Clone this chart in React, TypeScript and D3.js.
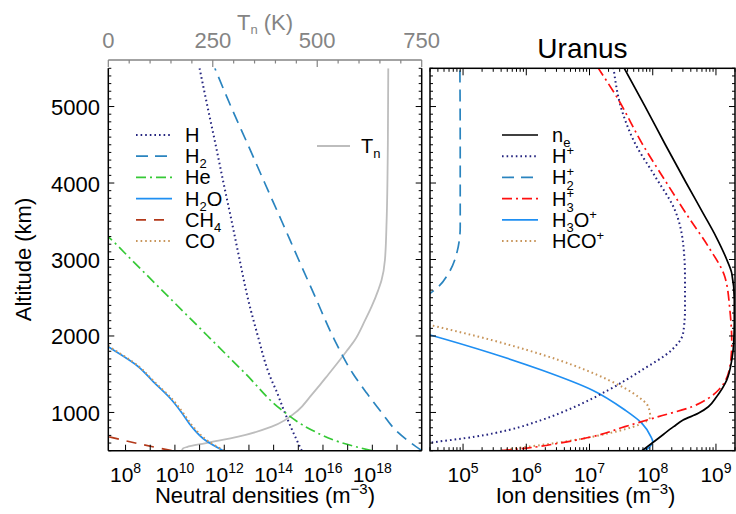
import React from 'react';
import * as d3 from 'd3';

const FONT = "'Liberation Sans', Arial, Helvetica, sans-serif";

// ---------- axes ----------
const ALT_DOMAIN = [500, 5500];
const ALT_LABELS = [1000, 2000, 3000, 4000, 5000];
const NEUTRAL_DOMAIN = [2e7, 1e20];
const NEUTRAL_DECADES = [8, 9, 10, 11, 12, 13, 14, 15, 16, 17, 18, 19];
const NEUTRAL_LABEL_EXP = [8, 10, 12, 14, 16, 18];
const ION_DOMAIN = [3e4, 2e9];
const ION_LABEL_EXP = [5, 6, 7, 8, 9];
const TN_DOMAIN = [0, 750];
const TN_LABELS = [0, 250, 500, 750];

// ---------- neutral densities: altitude (km), log10 density (m^-3) ----------
const H_ALT = [500, 750, 1000, 1250, 1500, 2000, 2500, 3000, 3500, 4000, 4500, 5000, 5500];
const H_LOG = [15.14, 14.78, 14.45, 14.15, 13.82, 13.36, 12.95, 12.62, 12.3, 11.97, 11.65, 11.32, 11.0];

const H2_ALT = [500, 750, 1000, 1250, 1500, 2000, 2500, 3000, 3500, 4000, 4500, 5000, 5500];
const H2_LOG = [20.0, 19.0, 18.37, 17.78, 17.23, 16.39, 15.7, 15.01, 14.33, 13.64, 12.96, 12.27, 11.62];

const HE_ALT = [500, 618, 771, 1032, 1500, 2000, 2500, 3000, 3277, 3400];
const HE_LOG = [17.97, 16.62, 15.54, 14.33, 12.88, 11.33, 9.78, 8.23, 7.37, 6.95];

const H2O_ALT = [500, 640, 814, 1000, 1163, 1400, 1598, 1860, 1920];
const H2O_LOG = [11.96, 11.22, 10.68, 10.27, 9.87, 9.13, 8.52, 7.3, 7.02];

const CH4_ALT = [500, 590, 683, 720];
const CH4_LOG = [9.87, 8.55, 7.3, 6.8];

const CO_ALT = [500, 640, 814, 1000, 1163, 1400, 1598, 1870, 1930];
const CO_LOG = [12.0, 11.28, 10.74, 10.32, 9.92, 9.17, 8.55, 7.3, 7.02];

// neutral temperature (K)
const TN_ALT = [500, 530, 548, 597, 683, 814, 1032, 1200, 1337, 1500, 1643, 1800, 1947, 2200, 2383, 2600, 2732, 2993, 3500, 4500, 5500];
const TN_VAL = [176, 179, 188, 231, 311, 391, 455, 482, 503, 527, 548, 570, 590, 614, 630, 646, 654, 662, 666, 669, 670];

// ---------- ion densities ----------
const NE_ALT = [500, 650, 814, 901, 989, 1075, 1206, 1424, 1686, 1904, 2200, 2470, 2819, 3000, 3300, 3600, 4000, 4500, 5000, 5500];
const NE_LOG = [7.83, 8.07, 8.33, 8.48, 8.72, 8.88, 9.01, 9.17, 9.25, 9.28, 9.29, 9.29, 9.25, 9.17, 9.0, 8.8, 8.53, 8.2, 7.88, 7.55];

const HP_ALT = [550, 605, 683, 771, 901, 1075, 1294, 1555, 1817, 2035, 2340, 2775, 3212, 3647, 4083, 4519, 4955, 5500];
const HP_LOG = [4.0, 4.48, 5.19, 5.72, 6.24, 6.77, 7.3, 7.83, 8.3, 8.48, 8.51, 8.51, 8.48, 8.35, 8.04, 7.72, 7.51, 7.38];

const H2P_ALT = [2500, 2558, 2644, 2819, 3081, 3429, 4500, 5500];
const H2P_LOG = [4.38, 4.48, 4.61, 4.77, 4.9, 4.955, 4.955, 4.95];

const H3P_ALT = [500, 531, 597, 683, 814, 945, 1075, 1185, 1294, 1598, 1904, 2340, 2775, 3167, 3560, 4040, 4519, 5085, 5500];
const H3P_LOG = [5.61, 5.98, 6.51, 7.04, 7.56, 8.09, 8.62, 8.88, 9.04, 9.22, 9.25, 9.22, 9.14, 8.88, 8.56, 8.19, 7.83, 7.46, 7.14];

const H3OP_ALT = [500, 560, 620, 683, 858, 1032, 1294, 1555, 1774, 2013, 2100];
const H3OP_LOG = [7.88, 7.96, 8.0, 7.97, 7.83, 7.56, 7.04, 6.24, 5.45, 4.48, 4.1];

const HCOP_ALT = [500, 518, 575, 640, 727, 836, 945, 1075, 1206, 1424, 1686, 1947, 2144, 2200];
const HCOP_LOG = [5.61, 5.72, 6.24, 6.77, 7.3, 7.77, 7.96, 7.93, 7.77, 7.3, 6.51, 5.45, 4.48, 4.2];

// ---------- layout ----------
const W = 736, H = 514;
const Y0 = 68.3, Y1 = 450.7;
const LX0 = 108.3, LX1 = 421.7;
const RX0 = 430, RX1 = 735;
const TN_AXIS_Y = 60;

const C = {
  navy: '#24247f',
  steel: '#2a84bf',
  green: '#36c936',
  blue: '#1f8ff2',
  brown: '#b3391a',
  tan: '#c8955a',
  red: '#ff1010',
  tn: '#bdbdbd',
  grayAxis: '#848484',
};

const y = d3.scaleLinear().domain(ALT_DOMAIN).range([Y1, Y0]);
const xN = d3.scaleLog().domain(NEUTRAL_DOMAIN).range([LX0, LX1]);
const xI = d3.scaleLog().domain(ION_DOMAIN).range([RX0, RX1]);
const xT = d3.scaleLinear().domain(TN_DOMAIN).range([LX0, LX1]);

const zip = (a: number[], b: number[]) => a.map((v, i) => [v, b[i]] as [number, number]);

const lineN = d3.line<[number, number]>().x(d => xN(Math.pow(10, d[1]))).y(d => y(d[0])).curve(d3.curveMonotoneY);
const lineI = d3.line<[number, number]>().x(d => xI(Math.pow(10, d[1]))).y(d => y(d[0])).curve(d3.curveMonotoneY);
const lineT = d3.line<[number, number]>().x(d => xT(d[1])).y(d => y(d[0])).curve(d3.curveMonotoneY);

const DOT = '1.6 3';
const DASH = '12 7';
const DASHDOT = '10 4 2 4';
const DASH_CH4 = '10 8';

const neutralSeries = [
  { key: 'H', d: zip(H_ALT, H_LOG), color: C.navy, dash: DOT },
  { key: 'H2', d: zip(H2_ALT, H2_LOG), color: C.steel, dash: DASH },
  { key: 'He', d: zip(HE_ALT, HE_LOG), color: C.green, dash: DASHDOT },
  { key: 'H2O', d: zip(H2O_ALT, H2O_LOG), color: C.blue, dash: undefined },
  { key: 'CH4', d: zip(CH4_ALT, CH4_LOG), color: C.brown, dash: DASH_CH4 },
  { key: 'CO', d: zip(CO_ALT, CO_LOG), color: C.tan, dash: DOT },
];

const ionSeries = [
  { key: 'H2+', d: zip(H2P_ALT, H2P_LOG), color: C.steel, dash: DASH },
  { key: 'HCO+', d: zip(HCOP_ALT, HCOP_LOG), color: C.tan, dash: DOT },
  { key: 'H3O+', d: zip(H3OP_ALT, H3OP_LOG), color: C.blue, dash: undefined },
  { key: 'H+', d: zip(HP_ALT, HP_LOG), color: C.navy, dash: DOT },
  { key: 'H3+', d: zip(H3P_ALT, H3P_LOG), color: C.red, dash: DASHDOT },
  { key: 'ne', d: zip(NE_ALT, NE_LOG), color: '#000', dash: undefined },
];

function LegendLabel({ k }: { k: string }) {
  switch (k) {
    case 'H': return <>H</>;
    case 'H2': return <>H<tspan dy={5} fontSize={13}>2</tspan></>;
    case 'He': return <>He</>;
    case 'H2O': return <>H<tspan dy={5} fontSize={13}>2</tspan><tspan dy={-5}>O</tspan></>;
    case 'CH4': return <>CH<tspan dy={5} fontSize={13}>4</tspan></>;
    case 'CO': return <>CO</>;
    case 'ne': return <>n<tspan dy={5} fontSize={13}>e</tspan></>;
    case 'H+': return <>H<tspan dy={-8} fontSize={13}>+</tspan></>;
    case 'H2+': return <>H<tspan dy={-8} fontSize={13}>+</tspan><tspan dx={-7.6} dy={14} fontSize={13}>2</tspan></>;
    case 'H3+': return <>H<tspan dy={-8} fontSize={13}>+</tspan><tspan dx={-7.6} dy={14} fontSize={13}>3</tspan></>;
    case 'H3O+': return <>H<tspan dy={5} fontSize={13}>3</tspan><tspan dy={-5}>O</tspan><tspan dy={-8} fontSize={13}>+</tspan></>;
    case 'HCO+': return <>HCO<tspan dy={-8} fontSize={13}>+</tspan></>;
    default: return <>{k}</>;
  }
}

export default function App() {
  const altMinor = d3.range(500, 5501, 100);
  const ionMinor: number[] = [];
  for (let e = 4; e <= 9; e++) for (let m = 1; m <= 9; m++) {
    const v = m * Math.pow(10, e);
    if (v >= ION_DOMAIN[0] && v <= ION_DOMAIN[1]) ionMinor.push(v);
  }
  const tnMinor = d3.range(0, 751, 50);

  const leftLegend = ['H', 'H2', 'He', 'H2O', 'CH4', 'CO'];
  const rightLegend = ['ne', 'H+', 'H2+', 'H3+', 'H3O+', 'HCO+'];
  const styleOf = (k: string) => [...neutralSeries, ...ionSeries].find(s => s.key === k)!;
  const legendRowY = (i: number) => 135 + i * 21.2;

  const yTicks = (x: number, dir: number) => altMinor.map(a => {
    const major = a % 1000 === 0;
    const len = major ? 6 : 3;
    return <line key={`${x}-${a}`} x1={x} x2={x + dir * len} y1={y(a)} y2={y(a)} stroke="#000" strokeWidth={1} />;
  });

  return (
    <svg width={W} height={H} style={{ position: 'absolute', left: 0, top: 0, background: '#fff' }} fontFamily={FONT}>
      <defs>
        <clipPath id="clipL"><rect x={LX0} y={Y0} width={LX1 - LX0} height={Y1 - Y0} /></clipPath>
        <clipPath id="clipR"><rect x={RX0} y={Y0} width={RX1 - RX0} height={Y1 - Y0} /></clipPath>
      </defs>

      {/* ---------- Left panel curves ---------- */}
      <g clipPath="url(#clipL)" fill="none">
        <path d={lineT(zip(TN_ALT, TN_VAL)) || ''} stroke={C.tn} strokeWidth={1.8} />
        {neutralSeries.map(s => (
          <path key={s.key} d={lineN(s.d) || ''} stroke={s.color} strokeWidth={s.dash === DOT ? 2 : 1.7} strokeDasharray={s.dash} />
        ))}
      </g>

      {/* left frame */}
      <g>
        <line x1={LX0} x2={LX0} y1={Y0} y2={Y1} stroke="#000" strokeWidth={1.5} />
        <line x1={LX1} x2={LX1} y1={Y0} y2={Y1} stroke="#000" strokeWidth={1.5} />
        <line x1={LX0} x2={LX1} y1={Y1} y2={Y1} stroke="#000" strokeWidth={1.5} />
        {yTicks(LX0, 1)}
        {yTicks(LX1, -1)}
        {NEUTRAL_DECADES.map(e => (
          <line key={e} x1={xN(Math.pow(10, e))} x2={xN(Math.pow(10, e))} y1={Y1} y2={Y1 - 6} stroke="#000" />
        ))}
        {NEUTRAL_LABEL_EXP.map(e => (
          <text key={e} x={xN(Math.pow(10, e))} y={482} fontSize={21} textAnchor="middle">
            10<tspan dy={-9} fontSize={14}>{e}</tspan>
          </text>
        ))}
        {ALT_LABELS.map(a => (
          <text key={a} x={100} y={y(a) + 8.5} fontSize={22} textAnchor="end">{a}</text>
        ))}
        <text transform={`translate(31,${(Y0 + Y1) / 2}) rotate(-90)`} fontSize={22} textAnchor="middle">Altitude (km)</text>
        <text x={(LX0 + LX1) / 2} y={503} fontSize={22} textAnchor="middle">
          Neutral densities (m<tspan dy={-9} fontSize={15}>{'\u22123'}</tspan><tspan dy={9}>)</tspan>
        </text>
      </g>

      {/* Tn axis (top, gray) */}
      <g>
        <line x1={LX0} x2={LX1} y1={TN_AXIS_Y} y2={TN_AXIS_Y} stroke={C.grayAxis} strokeWidth={1.5} />
        {tnMinor.map(t => (
          <line key={t} x1={xT(t)} x2={xT(t)} y1={TN_AXIS_Y} y2={TN_AXIS_Y + (t % 250 === 0 ? 7 : 3.5)} stroke={C.grayAxis} strokeWidth={1.2} />
        ))}
        {TN_LABELS.map(t => (
          <text key={t} x={xT(t)} y={48} fontSize={22} textAnchor="middle" fill={C.grayAxis}>{t}</text>
        ))}
        <text x={(LX0 + LX1) / 2} y={30} fontSize={22} textAnchor="middle" fill={C.grayAxis}>
          T<tspan dy={4} fontSize={13}>n</tspan><tspan dy={-4}> (K)</tspan>
        </text>
      </g>

      {/* left legend */}
      <g>
        {leftLegend.map((k, i) => {
          const s = styleOf(k);
          const yy = legendRowY(i);
          return (
            <g key={k}>
              <line x1={136} x2={172} y1={yy} y2={yy} stroke={s.color} strokeWidth={s.dash === DOT ? 2 : 1.7} strokeDasharray={s.dash} />
              <text x={185} y={yy + 7} fontSize={20}><LegendLabel k={k} /></text>
            </g>
          );
        })}
        <line x1={317} x2={350} y1={146} y2={146} stroke={C.tn} strokeWidth={1.8} />
        <text x={361} y={153} fontSize={20}>T<tspan dy={5} fontSize={13}>n</tspan></text>
      </g>

      {/* ---------- Right panel ---------- */}
      <g clipPath="url(#clipR)" fill="none">
        {ionSeries.map(s => (
          <path key={s.key} d={lineI(s.d) || ''} stroke={s.color} strokeWidth={s.dash === DOT ? 2 : 1.7} strokeDasharray={s.dash} />
        ))}
      </g>
      <g>
        <rect x={RX0} y={Y0} width={RX1 - RX0} height={Y1 - Y0} fill="none" stroke="#000" strokeWidth={1.5} />
        {yTicks(RX0, 1)}
        {yTicks(RX1, -1)}
        {ionMinor.map(v => {
          const major = Math.abs(Math.log10(v) - Math.round(Math.log10(v))) < 1e-9;
          const len = major ? 7 : 3.5;
          return (
            <g key={v}>
              <line x1={xI(v)} x2={xI(v)} y1={Y1} y2={Y1 - len} stroke="#000" />
              <line x1={xI(v)} x2={xI(v)} y1={Y0} y2={Y0 + len} stroke="#000" />
            </g>
          );
        })}
        {ION_LABEL_EXP.map(e => (
          <text key={e} x={xI(Math.pow(10, e))} y={482} fontSize={21} textAnchor="middle">
            10<tspan dy={-9} fontSize={14}>{e}</tspan>
          </text>
        ))}
        <text x={(RX0 + RX1) / 2 + 3} y={503} fontSize={22} textAnchor="middle">
          Ion densities (m<tspan dy={-9} fontSize={15}>{'\u22123'}</tspan><tspan dy={9}>)</tspan>
        </text>
        <text x={(RX0 + RX1) / 2} y={58} fontSize={28} textAnchor="middle">Uranus</text>
      </g>

      {/* right legend */}
      <g>
        {rightLegend.map((k, i) => {
          const s = styleOf(k);
          const yy = legendRowY(i);
          return (
            <g key={k}>
              <line x1={502} x2={538} y1={yy} y2={yy} stroke={s.color} strokeWidth={s.dash === DOT ? 2 : 1.7} strokeDasharray={s.dash} />
              <text x={552} y={yy + 7} fontSize={20}><LegendLabel k={k} /></text>
            </g>
          );
        })}
      </g>
    </svg>
  );
}
